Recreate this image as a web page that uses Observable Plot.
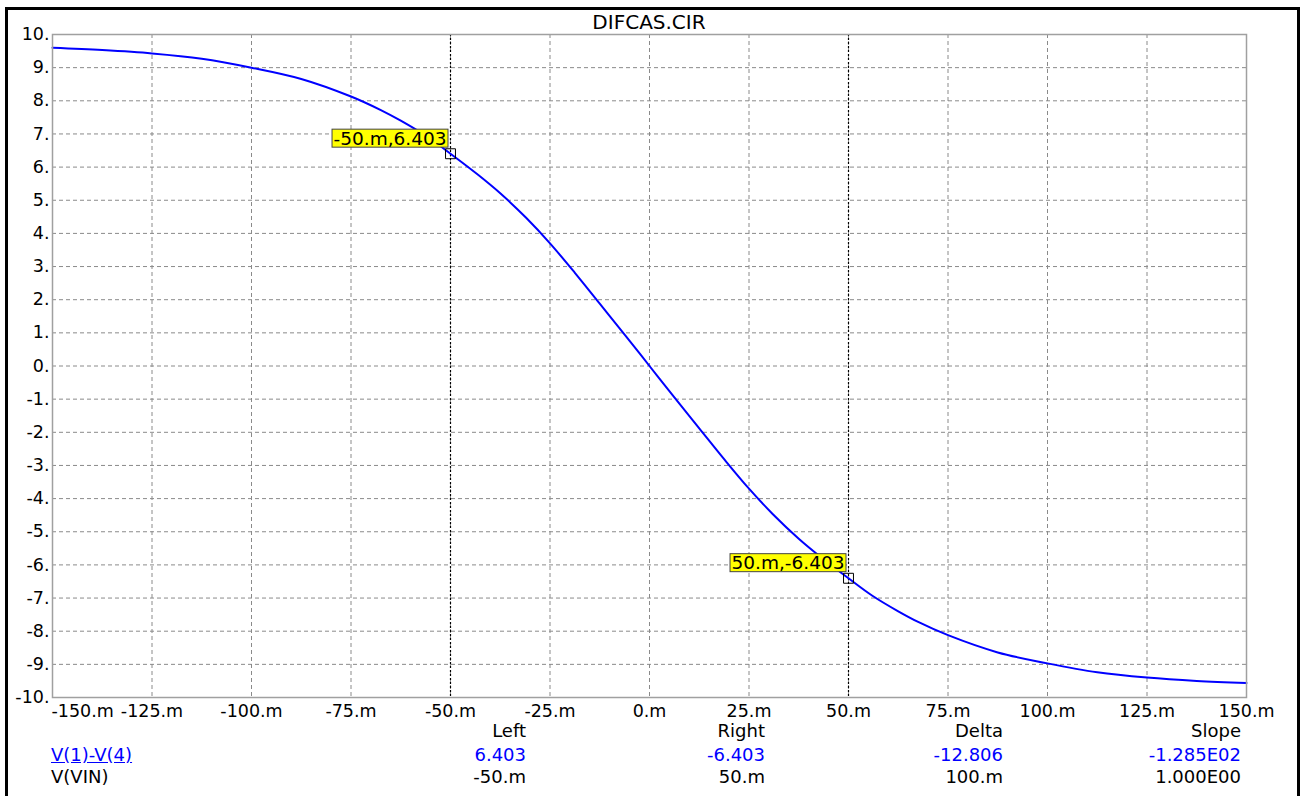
<!DOCTYPE html>
<html><head><meta charset="utf-8">
<script src="https://cdn.jsdelivr.net/npm/d3@7"></script>
<script src="https://cdn.jsdelivr.net/npm/@observablehq/plot@0.6"></script>
<style>
html,body{margin:0;padding:0;background:#fff;overflow:hidden;}
#wrap{position:relative;width:1303px;height:796px;overflow:hidden;font-family:"DejaVu Sans",sans-serif;color:#000;background:#fff;}
#chart{position:absolute;left:0;top:0;}
#border{position:absolute;left:5px;top:7px;width:1295px;height:830px;border:3px solid #000;box-sizing:border-box;pointer-events:none;}
#title{position:absolute;left:0;width:1298px;top:12px;text-align:center;font-size:20px;line-height:20px;white-space:nowrap;}
.t{position:absolute;white-space:nowrap;font-size:18px;line-height:18px;}
.r{text-align:right;}
.blue{color:#0000ff;}
.u{text-decoration:underline;}
</style>
</head>
<body>
<div id="wrap">
  <div id="chart"></div>
  <div id="title"></div>
  <div id="table"></div>
  <div id="border"></div>
</div>
<script>
// ---- data ----
const title = "DIFCAS.CIR";
const vin = [-150, -137.5, -125, -112.5, -100, -87.5, -75, -67.5, -62.5, -56, -50, -43, -37.5, -31, -25, -18.75, -12.5, -6.25, 0,
             6.25, 12.5, 18.75, 25, 31, 37.5, 43, 50, 56, 62.5, 67.5, 75, 87.5, 100, 112.5, 125, 137.5, 150];
const vout = [9.60, 9.53, 9.43, 9.27, 9.00, 8.66, 8.13, 7.72, 7.40, 6.93, 6.403, 5.76, 5.21, 4.47, 3.70, 2.81, 1.88, 0.95, 0,
              -0.95, -1.88, -2.81, -3.70, -4.47, -5.21, -5.76, -6.403, -6.93, -7.40, -7.72, -8.12, -8.64, -8.97, -9.24, -9.40, -9.50, -9.56];
const cursorX = [-50, 50];
const cursorY = [6.403, -6.403];
const xTicks = [-150, -125, -100, -75, -50, -25, 0, 25, 50, 75, 100, 125, 150];
const yTicks = [10, 9, 8, 7, 6, 5, 4, 3, 2, 1, 0, -1, -2, -3, -4, -5, -6, -7, -8, -9, -10];
const tableHeaders = ["Left", "Right", "Delta", "Slope"];
const row1Name = "V(1)-V(4)";
const row1Values = ["6.403", "-6.403", "-12.806", "-1.285E02"];
const row2Name = "V(VIN)";
const row2Values = ["-50.m", "50.m", "100.m", "1.000E00"];

// ---- build ----
const curve = vin.map((x, i) => ({x, y: vout[i]}));
const cursors = cursorX.map((x, i) => ({x, y: cursorY[i]}));

const chart = Plot.plot({
  width: 1303,
  height: 796,
  marginLeft: 52,
  marginRight: 57,
  marginTop: 34,
  marginBottom: 99,
  style: {fontFamily: "DejaVu Sans, sans-serif", fontSize: "17.5px", background: "#fff", color: "#000"},
  x: {domain: [-150, 150], label: null},
  y: {domain: [-10, 10], label: null},
  marks: [
    Plot.gridX(xTicks, {stroke: "#8a8a8a", strokeOpacity: 1, strokeDasharray: "4,3"}),
    Plot.gridY(yTicks, {stroke: "#8a8a8a", strokeOpacity: 1, strokeDasharray: "4,3"}),
    Plot.ruleX(cursorX, {stroke: "#000", strokeWidth: 1.2, strokeDasharray: "2,2"}),
    Plot.line(curve, {x: "x", y: "y", stroke: "#0000ff", strokeWidth: 2, curve: "catmull-rom"}),
    Plot.frame({stroke: "#a0a0a0", strokeWidth: 1.5}),
    Plot.axisY(yTicks, {tickSize: 0, tickPadding: 3, tickFormat: d => `${d}.`, label: null, fontSize: 17.5}),
    Plot.axisX(xTicks.slice(0, 1), {tickSize: 0, tickPadding: 7, tickFormat: d => `${d}.m`, label: null, textAnchor: "start", dx: -1, fontSize: 17.5}),
    Plot.axisX(xTicks.slice(1), {tickSize: 0, tickPadding: 7, tickFormat: d => `${d}.m`, label: null, fontSize: 17.5}),
    Plot.text(cursors, {x: "x", y: "y", text: d => `${d.x}.m,${d.y}`, textAnchor: "end", dx: -4, dy: -15, fontSize: 18.5, fill: "#000"}),
    Plot.dot(cursors, {x: "x", y: "y", symbol: "square", r: 5.6, stroke: "#000", strokeWidth: 1, fill: "none"})
  ]
});
document.getElementById("chart").append(chart);

// yellow boxes behind cursor labels
chart.querySelectorAll("text").forEach(t => {
  if (t.textContent.includes(".m,")) {
    const b = t.getBBox();
    const r = document.createElementNS("http://www.w3.org/2000/svg", "rect");
    r.setAttribute("x", b.x - 1.5);
    r.setAttribute("y", b.y + 1.5);
    r.setAttribute("width", b.width + 3);
    r.setAttribute("height", b.height - 3);
    r.setAttribute("fill", "#ffff00");
    r.setAttribute("stroke", "#444");
    r.setAttribute("stroke-width", "1");
    const tr = t.getAttribute("transform");
    if (tr) r.setAttribute("transform", tr);
    t.parentNode.insertBefore(r, t);
  }
});

document.getElementById("title").textContent = title;

// bottom cursor table
const table = document.getElementById("table");
const colRight = [526, 765, 1003, 1241];
const rowTop = [722, 746, 768];
function cell(text, top, right, cls) {
  const d = document.createElement("div");
  d.className = "t r " + (cls || "");
  d.style.top = top + "px";
  d.style.right = (1303 - right) + "px";
  d.textContent = text;
  table.append(d);
}
tableHeaders.forEach((h, i) => cell(h, rowTop[0], colRight[i]));
row1Values.forEach((v, i) => cell(v, rowTop[1], colRight[i], "blue"));
row2Values.forEach((v, i) => cell(v, rowTop[2], colRight[i]));
const n1 = document.createElement("div");
n1.className = "t blue u"; n1.style.left = "51px"; n1.style.top = rowTop[1] + "px"; n1.textContent = row1Name;
table.append(n1);
const n2 = document.createElement("div");
n2.className = "t"; n2.style.left = "51px"; n2.style.top = rowTop[2] + "px"; n2.textContent = row2Name;
table.append(n2);
</script>
</body></html>
